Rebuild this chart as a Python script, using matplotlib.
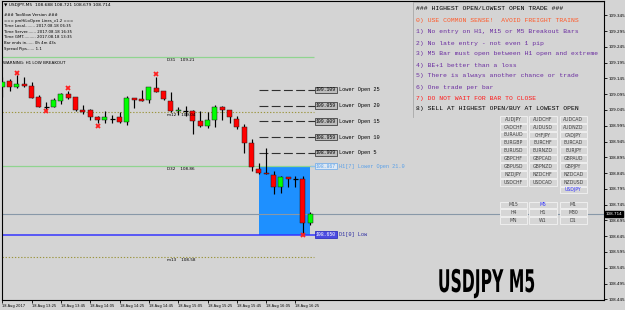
import matplotlib
matplotlib.use("Agg")
import matplotlib.pyplot as plt
from matplotlib.patches import Rectangle
from matplotlib.patheffects import AbstractPathEffect
from matplotlib.transforms import Affine2D
import matplotlib.transforms as mtransforms

# ---------------- data ----------------
opens  = [109.117,109.137,109.117,109.127,109.121,109.085,109.054,109.055,109.074,109.096,
          109.085,109.045,109.045,109.024,109.013,109.016,109.022,109.008,109.083,109.079,
          109.077,109.115,109.104,109.074,109.041,109.043,109.041,109.011,108.994,109.013,
          109.055,109.045,109.017,108.992,108.941,108.858,108.846,108.839,108.800,108.832,
          108.825,108.825,108.688]
highs  = [109.150,109.142,109.157,109.149,109.133,109.092,109.069,109.083,109.100,109.106,
          109.087,109.060,109.047,109.026,109.043,109.029,109.040,109.089,109.083,109.108,
          109.117,109.150,109.106,109.101,109.055,109.058,109.045,109.043,109.040,109.060,
          109.058,109.045,109.026,109.001,108.952,108.878,108.924,108.853,108.836,108.832,
          108.836,108.836,108.721]
lows   = [109.087,109.106,109.114,109.117,109.083,109.054,109.043,109.054,109.064,109.079,
          109.043,109.032,109.013,109.003,109.005,109.003,109.003,108.997,109.051,109.074,
          109.066,109.101,109.077,109.040,109.029,109.026,108.969,108.992,108.989,108.992,
          109.013,109.003,108.985,108.910,108.853,108.842,108.842,108.778,108.781,108.802,
          108.800,108.650,108.679]
closes = [109.135,109.117,109.127,109.120,109.084,109.055,109.054,109.077,109.096,109.084,
          109.045,109.040,109.022,109.013,109.022,109.016,109.006,109.082,109.078,109.074,
          109.117,109.101,109.079,109.043,109.045,109.043,109.011,108.994,109.013,109.054,
          109.045,109.022,108.992,108.939,108.865,108.844,108.842,108.800,108.832,108.825,
          108.825,108.688,108.714]

time_tick_idx = [0, 4, 8, 12, 16, 20, 24, 28, 32, 36, 40]
time_labels = ["18 Aug 2017", "18 Aug 13:25", "18 Aug 13:45", "18 Aug 14:05", "18 Aug 14:25",
               "18 Aug 14:45", "18 Aug 15:05", "18 Aug 15:25", "18 Aug 15:45", "18 Aug 16:05",
               "18 Aug 16:25"]
price_ticks = [109.345, 109.295, 109.245, 109.195, 109.145, 109.095, 109.045, 108.995, 108.945,
               108.895, 108.845, 108.795, 108.745, 108.695, 108.645, 108.595, 108.545, 108.495,
               108.445]
current_price = 108.714

fractal_up_idx = [2, 9, 21]
fractal_up_px = [109.163, 109.114, 109.159]
fractal_dn_idx = [6, 13, 41]
fractal_dn_px = [109.041, 108.995, 108.650]

d1_high_line = 109.212      # D31 109.21
d1_mid_line = 108.867       # D32 108.86
m_line_1 = 109.039          # m12
m_line_2 = 108.578          # m13
d1_low = 108.650
h1_open_level = 108.867
box_start_idx = 35
box_end_idx = 42

lower_open_names = ["Lower Open 25", "Lower Open 20", "Lower Open 15", "Lower Open 10", "Lower Open 5"]
lower_open_vals = [109.109, 109.059, 109.009, 108.959, 108.909]

info_lines = ["### TooSlow Version ###",
              "=== pmHiLoOpen Lines_v1.2 ===",
              "Time Local........ 2017.08.18 06:35",
              "Time Server....... 2017.08.18 16:35",
              "Time GMT.......... 2017.08.18 13:35",
              "Bar ends in...... 0h 4m 43s",
              "Spread Pips...... 1.1"]

rules = ["### HIGHEST OPEN/LOWEST OPEN TRADE ###",
         "0) USE COMMON SENSE!  AVOID FREIGHT TRAINS",
         "1) No entry on H1, M15 or M5 Breakout Bars",
         "2) No late entry - not even 1 pip",
         "3) M5 Bar must open between H1 open and extreme",
         "4) BE+1 better than a loss",
         "5) There is always another chance or trade",
         "6) One trade per bar",
         "7) DO NOT WAIT FOR BAR TO CLOSE",
         "8) SELL AT HIGHEST OPEN/BUY AT LOWEST OPEN"]
rule_colors = ["black", "#ff5a2a", "#6a2da0", "#6a2da0", "#6a2da0", "#6a2da0",
               "#6a2da0", "#6a2da0", "#ff1a1a", "black"]

symbols = [["AUDJPY", "AUDCHF", "AUDCAD"],
           ["CADCHF", "AUDUSD", "AUDNZD"],
           ["EURAUD", "CHFJPY", "CADJPY"],
           ["EURGBP", "EURCHF", "EURCAD"],
           ["EURUSD", "EURNZD", "EURJPY"],
           ["GBPCHF", "GBPCAD", "GBPAUD"],
           ["GBPUSD", "GBPNZD", "GBPJPY"],
           ["NZDJPY", "NZDCHF", "NZDCAD"],
           ["USDCHF", "USDCAD", "NZDUSD"],
           ["", "", "USDJPY"]]
timeframes = [["M15", "M5", "M1"],
              ["H4", "H1", "M30"],
              ["MN", "W1", "D1"]]


class Squeeze(AbstractPathEffect):
    """Scale the glyph outlines of a text around a point (display coords)."""
    def __init__(self, sx, sy, cx, cy):
        super().__init__()
        self.sx, self.sy, self.cx, self.cy = sx, sy, cx, cy

    def draw_path(self, renderer, gc, tpath, affine, rgbFace=None):
        t = affine + Affine2D().translate(-self.cx, -self.cy).scale(self.sx, self.sy) \
            .translate(self.cx, self.cy)
        renderer.draw_path(gc, tpath, t, rgbFace)


# ---------------- figure ----------------
W, H, DPI = 625, 310, 100
BG = '#d4d4d4'
fig = plt.figure(figsize=(W / DPI, H / DPI), dpi=DPI, facecolor=BG)
ax = fig.add_axes([2 / W, 10 / H, 602 / W, 299 / H])
ax.set_facecolor(BG)
px_per_bar = 7.33
ax.set_xlim(-0.04, -0.04 + 602 / px_per_bar)
ax.set_ylim(108.4429, 109.3903)

for s in ax.spines.values():
    s.set_color('black')
    s.set_linewidth(0.8)

# blue H1 box
ax.add_patch(Rectangle((box_start_idx, d1_low), box_end_idx - box_start_idx,
                       h1_open_level - d1_low, facecolor='#1e90ff', edgecolor='none', zorder=1))

# horizontal level lines
ax.hlines(d1_high_line, -0.04, 42.5, color='#90d490', lw=0.9, zorder=1.5)
ax.hlines(d1_mid_line, -0.04, 42.5, color='#90d490', lw=0.9, zorder=1.5)
ax.hlines([m_line_1, m_line_2], -0.04, 42.5, color='#9c9640', lw=0.8,
          linestyles=(0, (1.2, 1.6)), zorder=1.5)
ax.axhline(current_price, color='#8898a8', lw=0.8, zorder=1.5)
ax.hlines(d1_low, -0.04, 42.75, color='#3535ff', lw=1.1, zorder=1.6)
ax.hlines(h1_open_level, box_end_idx, 42.75, color='#8ec0f0', lw=0.9, zorder=1.6)

small = dict(fontsize=3.0, color='black', zorder=5)
ax.text(22.5, d1_high_line - 0.002, "D31    109.21", va='top', ha='left', **small)
ax.text(22.5, m_line_1 - 0.002, "m12    109.04", va='top', ha='left', **small)
ax.text(22.5, d1_mid_line - 0.002, "D32    108.86", va='top', ha='left', **small)
ax.text(22.5, m_line_2 - 0.002, "m13    108.58", va='top', ha='left', **small)

# lower open levels
mono = 'Liberation Mono'
ax.hlines(lower_open_vals, box_start_idx, 42.7, color='#303030', lw=0.8,
          linestyles=(0, (8, 3)), zorder=1.6)
for name, v in zip(lower_open_names, lower_open_vals):
    ax.text(42.8, v, f"{v:.3f}", va='center', ha='left', fontsize=3.5, family=mono,
            color='black', zorder=6,
            bbox=dict(boxstyle='square,pad=0.15', facecolor='#bdbdbd', edgecolor='#404040', lw=0.6))
    ax.text(46.0, v, name, va='center', ha='left', fontsize=3.8, family=mono,
            color='black', zorder=6)
ax.text(42.8, h1_open_level, f"{h1_open_level:.3f}", va='center', ha='left', fontsize=3.5,
        family=mono, color='#5aa0e8', zorder=6,
        bbox=dict(boxstyle='square,pad=0.15', facecolor='#dde8f4', edgecolor='#7ab0e8', lw=0.6))
ax.text(46.0, h1_open_level, "H1[7] Lower Open 21.0", va='center', ha='left', fontsize=3.8,
        family=mono, color='#5aa0e8', zorder=6)
ax.text(42.8, d1_low, f"{d1_low:.3f}", va='center', ha='left', fontsize=3.5,
        family=mono, color='white', zorder=6,
        bbox=dict(boxstyle='square,pad=0.15', facecolor='#4a4ae0', edgecolor='#3030c0', lw=0.6))
ax.text(46.0, d1_low, "D1[0] Low", va='center', ha='left', fontsize=3.8,
        family=mono, color='#2a2aa0', zorder=6)

# candles
bw = 0.68
for i, (o, h, l, c) in enumerate(zip(opens, highs, lows, closes)):
    ax.vlines(i, l, h, color='black', lw=0.85, zorder=3)
    if abs(c - o) < 0.0012:
        ax.hlines(o, i - bw / 2, i + bw / 2, color='black', lw=0.9, zorder=4)
    else:
        col = '#00ff00' if c > o else '#ff0000'
        ax.add_patch(Rectangle((i - bw / 2, min(o, c)), bw, abs(c - o),
                               facecolor=col, edgecolor='#202020', lw=0.35, zorder=4))

# fractal markers
ax.plot(fractal_up_idx, fractal_up_px, linestyle='none', marker='x', color='#ff2020',
        markersize=3.4, mew=1.3, zorder=5)
ax.plot(fractal_dn_idx, fractal_dn_px, linestyle='none', marker='x', color='#ff2020',
        markersize=3.4, mew=1.3, zorder=5)

# axes ticks
ax.yaxis.tick_right()
ax.set_yticks(price_ticks)
ax.set_yticklabels([f"{p:.3f}" for p in price_ticks])
ax.tick_params(axis='y', labelsize=3.0, length=2, width=0.6, pad=1, colors='black')
ax.set_xticks(time_tick_idx)
ax.set_xticklabels(time_labels)
ax.tick_params(axis='x', labelsize=2.6, length=2, width=0.6, pad=1, colors='black')
for lbl in ax.get_xticklabels():
    lbl.set_ha('left')

trans = mtransforms.blended_transform_factory(ax.transAxes, ax.transData)
ax.text(1.003, current_price, f"{current_price:.3f}", transform=trans, fontsize=3.0,
        color='white', va='center', ha='left', zorder=10, clip_on=False,
        bbox=dict(boxstyle='square,pad=0.25', facecolor='black', edgecolor='black'))

# ---------------- overlay (screen pixels) ----------------
ov = fig.add_axes([0, 0, 1, 1], zorder=10)
ov.set_xlim(0, W)
ov.set_ylim(H, 0)
ov.axis('off')
ov.patch.set_alpha(0)

ov.text(4, 5, "\u25bc USDJPY,M5  108.688 108.721 108.679 108.714", fontsize=3.2,
        va='center', ha='left', color='black')
for k, line in enumerate(info_lines):
    ov.text(4, 15 + k * 5.6, line, fontsize=2.8, va='center', ha='left', color='black')
ov.text(3, 63, "WARNING: H1 LOW BREAKOUT", fontsize=3.0, va='center', ha='left', color='black')

# rules panel
ov.plot([413, 413], [1.5, 117], color='#a8a8a8', lw=0.6)
ov.plot([413, 603], [1.5, 1.5], color='#a8a8a8', lw=0.6)
rule_y = [9, 20.7, 32, 43, 54, 65, 76, 87.3, 98.3, 108.7]
for txt, col, yy in zip(rules, rule_colors, rule_y):
    ov.text(416.5, yy, txt, fontsize=4.6, family=mono, color=col, va='center', ha='left')

# buttons
col_left = [499.5, 529.0, 559.5]
bwid, bhei = 27.5, 6.8
for r, row in enumerate(symbols):
    yc = 119.3 + r * 7.85
    for cidx, name in enumerate(row):
        if not name:
            continue
        ov.add_patch(Rectangle((col_left[cidx], yc - bhei / 2), bwid, bhei,
                               facecolor='#d6d6d6', edgecolor='#f2f2f2', lw=0.6))
        ov.text(col_left[cidx] + bwid / 2, yc, name, fontsize=3.3, va='center', ha='center',
                color='#3030ff' if name == "USDJPY" else '#404040')
for r, row in enumerate(timeframes):
    yc = 205 + r * 7.6
    for cidx, name in enumerate(row):
        ov.add_patch(Rectangle((col_left[cidx], yc - bhei / 2), bwid, bhei,
                               facecolor='#d6d6d6', edgecolor='#f2f2f2', lw=0.6))
        ov.text(col_left[cidx] + bwid / 2, yc, name, fontsize=3.3, va='center', ha='center',
                color='#3030ff' if name == "M5" else '#404040')

# big symbol caption, condensed like Impact
cx_px, cy_px = 486.5, 283.5
ov.text(cx_px, cy_px, "USDJPY M5", fontsize=22.5, fontweight='bold', family='DejaVu Sans',
        color='black', va='center', ha='center',
        path_effects=[Squeeze(0.50, 1.0, cx_px, H - cy_px)])

fig.savefig("out.png", dpi=DPI, facecolor=BG)
